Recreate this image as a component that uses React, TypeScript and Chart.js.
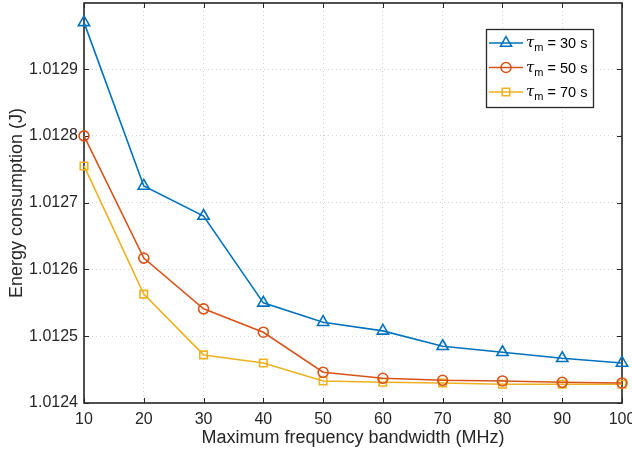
import React, { useEffect, useRef } from "react";
import { Chart, registerables } from "chart.js";

Chart.register(...registerables);

const bandwidths = [10, 20, 30, 40, 50, 60, 70, 80, 90, 100];
const xTicks = [10, 20, 30, 40, 50, 60, 70, 80, 90, 100];
const yTicks = [1.0124, 1.0125, 1.0126, 1.0127, 1.0128, 1.0129];

const tau30 = [1.01297, 1.012725, 1.01268, 1.01255, 1.012521, 1.012508, 1.012485, 1.012476, 1.012467, 1.01246];
const tau50 = [1.0128, 1.012617, 1.012541, 1.012506, 1.012446, 1.012437, 1.012434, 1.012433, 1.012431, 1.01243];
const tau70 = [1.012755, 1.012563, 1.012472, 1.01246, 1.012433, 1.012431, 1.01243, 1.012428, 1.012428, 1.012428];

const seriesNames = ["30 s", "50 s", "70 s"];
const seriesColors = ["#0072BD", "#D95319", "#EDB120"];
const seriesMarkers = ["triangle", "circle", "rect"];
const markerRadii = [6.5, 5, 5.3];

const AXIS = "#262626";
const FONT = "'Liberation Sans', Arial, Helvetica, sans-serif";

function drawMarker(ctx: CanvasRenderingContext2D, style: string, x: number, y: number, r: number) {
  ctx.beginPath();
  if (style === "circle") {
    ctx.arc(x, y, r, 0, Math.PI * 2);
  } else if (style === "rect") {
    const s = r * Math.SQRT1_2;
    ctx.rect(x - s, y - s, 2 * s, 2 * s);
  } else {
    for (let i = 0; i < 3; i++) {
      const a = -Math.PI / 2 + (i * 2 * Math.PI) / 3;
      const px = x + r * Math.cos(a);
      const py = y + r * Math.sin(a);
      if (i === 0) ctx.moveTo(px, py);
      else ctx.lineTo(px, py);
    }
    ctx.closePath();
  }
  ctx.stroke();
}

const boxPlugin = {
  id: "boxPlugin",
  beforeDatasetsDraw(chart: any) {
    const { ctx, chartArea } = chart;
    const { left, right, top, bottom } = chartArea;
    const xs = chart.scales.x;
    const ys = chart.scales.y;
    ctx.save();
    ctx.strokeStyle = AXIS;
    ctx.lineWidth = 1.6;
    ctx.strokeRect(left, top, right - left, bottom - top);
    const tl = 5;
    ctx.lineWidth = 1;
    ctx.beginPath();
    for (const v of xTicks) {
      const px = Math.round(xs.getPixelForValue(v)) + 0.5;
      ctx.moveTo(px, bottom);
      ctx.lineTo(px, bottom - tl);
      ctx.moveTo(px, top);
      ctx.lineTo(px, top + tl);
    }
    for (const v of yTicks) {
      const py = Math.round(ys.getPixelForValue(v)) + 0.5;
      ctx.moveTo(left, py);
      ctx.lineTo(left + tl, py);
      ctx.moveTo(right, py);
      ctx.lineTo(right - tl, py);
    }
    ctx.stroke();
    ctx.restore();
  },
};

const legendPlugin = {
  id: "texLegend",
  afterDraw(chart: any) {
    const { ctx, chartArea } = chart;
    const bx = chartArea.right - 136;
    const by = chartArea.top + 26;
    const bw = 107;
    const bh = 78;
    ctx.save();
    ctx.fillStyle = "#ffffff";
    ctx.fillRect(bx, by, bw, bh);
    ctx.strokeStyle = AXIS;
    ctx.lineWidth = 1.3;
    ctx.strokeRect(bx + 0.5, by + 0.5, bw, bh);
    chart.data.datasets.forEach((ds: any, i: number) => {
      const cy = by + 14 + i * 24.5;
      ctx.strokeStyle = ds.borderColor;
      ctx.lineWidth = 1.5;
      ctx.beginPath();
      ctx.moveTo(bx + 3, cy);
      ctx.lineTo(bx + 37, cy);
      ctx.stroke();
      drawMarker(ctx, ds.pointStyle, bx + 20, cy, ds.pointRadius);
      ctx.fillStyle = "#000000";
      ctx.textBaseline = "alphabetic";
      ctx.textAlign = "left";
      let tx = bx + 40;
      ctx.font = `italic 15px 'DejaVu Serif', serif`;
      ctx.fillText("τ", tx, cy + 4);
      tx += ctx.measureText("τ").width;
      ctx.font = `11px ${FONT}`;
      ctx.fillText("m", tx, cy + 8);
      tx += ctx.measureText("m").width;
      ctx.font = `14.5px ${FONT}`;
      ctx.fillText(" = " + seriesNames[i], tx, cy + 5);
    });
    ctx.restore();
  },
};

export default function App() {
  const ref = useRef<HTMLCanvasElement | null>(null);
  useEffect(() => {
    if (!ref.current) return;
    const data = [tau30, tau50, tau70];
    const chart = new Chart(ref.current, {
      type: "line",
      data: {
        datasets: data.map((vals, i) => ({
          label: "τm = " + seriesNames[i],
          data: bandwidths.map((b, j) => ({ x: b, y: vals[j] })),
          borderColor: seriesColors[i],
          backgroundColor: "transparent",
          borderWidth: 1.6,
          pointStyle: seriesMarkers[i] as any,
          pointRadius: markerRadii[i],
          pointBorderWidth: 1.6,
          pointBackgroundColor: "transparent",
          pointBorderColor: seriesColors[i],
          tension: 0,
          clip: false as any,
        })),
      },
      options: {
        animation: false,
        responsive: false,
        layout: { autoPadding: false, padding: { top: 3, right: 10, left: 0, bottom: 0 } },
        plugins: { legend: { display: false }, tooltip: { enabled: false } },
        scales: {
          x: {
            type: "linear",
            min: 10,
            max: 100,
            afterBuildTicks(scale: any) {
              scale.ticks = xTicks.map((v) => ({ value: v }));
            },
            afterFit(scale: any) {
              scale.height = 54;
              scale.paddingLeft = 0;
              scale.paddingRight = 0;
            },
            ticks: { color: AXIS, font: { family: FONT, size: 16 }, padding: 7, maxRotation: 0 },
            grid: { color: "#cfcfcf", lineWidth: 1, drawTicks: false },
            border: { display: false, dash: [1, 3] },
            title: {
              display: true,
              text: "Maximum frequency bandwidth (MHz)",
              color: AXIS,
              font: { family: FONT, size: 18 },
              padding: { top: 0, bottom: 8 },
            },
          },
          y: {
            type: "linear",
            min: 1.0124,
            max: 1.012999,
            afterBuildTicks(scale: any) {
              scale.ticks = yTicks.map((v) => ({ value: v }));
            },
            afterFit(scale: any) {
              scale.width = 84;
              scale.paddingTop = 0;
              scale.paddingBottom = 0;
            },
            ticks: {
              color: AXIS,
              font: { family: FONT, size: 16 },
              padding: 6,
              callback: (v: any) => Number(v).toFixed(4),
            },
            grid: { color: "#cfcfcf", lineWidth: 1, drawTicks: false },
            border: { display: false, dash: [1, 3] },
            title: {
              display: true,
              text: "Energy consumption (J)",
              color: AXIS,
              font: { family: FONT, size: 18 },
              padding: { top: 6, bottom: 0 },
            },
          },
        },
      },
      plugins: [boxPlugin, legendPlugin],
    });
    return () => chart.destroy();
  }, []);
  return (
    <div style={{ position: "absolute", left: 0, top: 0, width: 632, height: 457, background: "#fff" }}>
      <canvas ref={ref} width={632} height={457} />
    </div>
  );
}
